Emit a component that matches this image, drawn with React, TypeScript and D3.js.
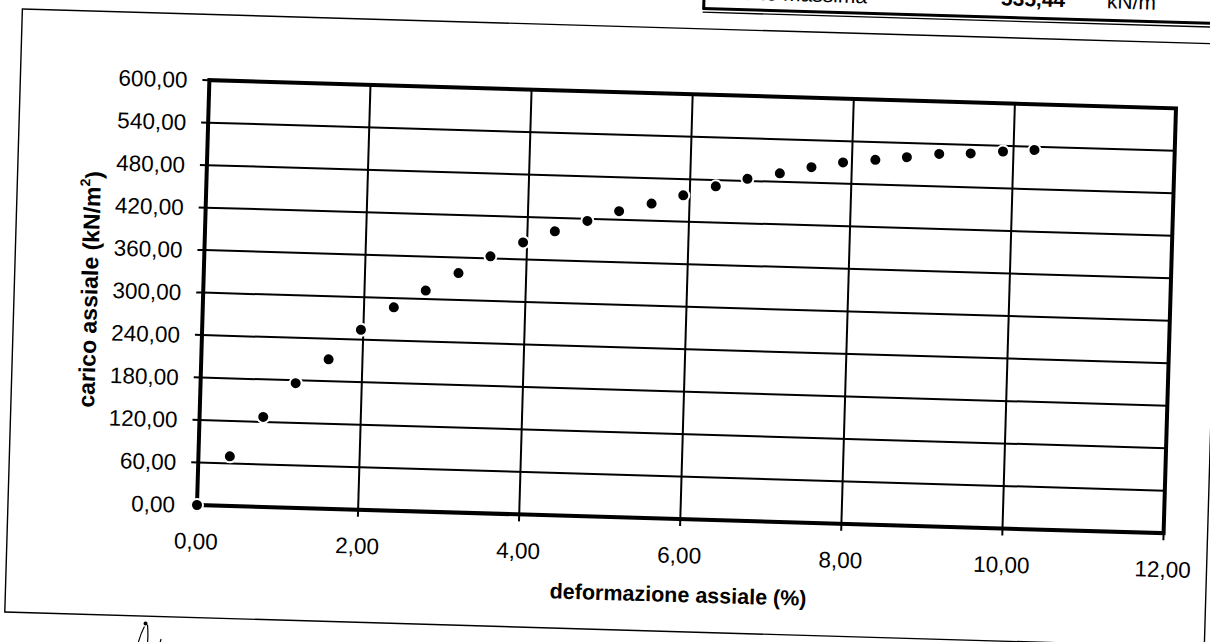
import React from "react";
import * as d3 from "d3";

// Data
const deformazione = [0.0, 0.39, 0.79, 1.18, 1.58, 1.97, 2.37, 2.76, 3.16, 3.55, 3.95, 4.34, 4.74, 5.13, 5.53, 5.92, 6.32, 6.71, 7.11, 7.5, 7.89, 8.29, 8.68, 9.08, 9.47, 9.87, 10.26];
const carico = [0, 70, 127, 176, 211, 254, 287, 312, 338, 363, 384, 401, 417, 432, 444, 457, 471, 483, 492, 502, 510, 515, 520, 526, 528, 532, 535.44];
const xTickValues = [0, 2, 4, 6, 8, 10, 12];
const yTickValues = [0, 60, 120, 180, 240, 300, 360, 420, 480, 540, 600];
const xTitle = "deformazione assiale (%)";
const yTitleMain = "carico assiale (kN/m";
const yTitleSup = "2";
const headerLabel = "Tensione massima";
const headerValue = "535,44";
const headerUnit = "kN/m";

const W = 1210;
const H = 642;
const plot = { left: 197, top: 80, right: 1164, bottom: 505 };
const ROT = 1.67;
const FONT = "'Liberation Sans', Arial, Helvetica, sans-serif";

export default function App() {
  const x = d3.scaleLinear().domain([0, 12]).range([plot.left, plot.right]);
  const y = d3.scaleLinear().domain([0, 600]).range([plot.bottom, plot.top]);
  const fmt = (v: number) => d3.format(".2f")(v).replace(".", ",");
  const pts = deformazione.map((d, i) => [d, carico[i]] as [number, number]);
  const cx = (plot.left + plot.right) / 2;
  const cy = (plot.top + plot.bottom) / 2;

  return (
    <svg
      width={W}
      height={H}
      viewBox={`0 0 ${W} ${H}`}
      style={{ position: "absolute", left: 0, top: 0, display: "block", background: "#fff" }}
      fontFamily={FONT}
    >
      <rect width={W} height={H} fill="#fff" />
      <g transform={`rotate(${ROT} ${plot.left} ${plot.bottom})`}>
        {/* header table fragment (cut at top, as in the scan) */}
        <text x={852} y={-16} fontSize={21} textAnchor="end" fill="#000">{headerLabel}</text>
        <text x={1018} y={-18} fontSize={21} fontWeight="bold" textAnchor="middle" fill="#000">{headerValue}</text>
        <text x={1092} y={-18} fontSize={21} fill="#000">{headerUnit}</text>
        <line x1={688} x2={1300} y1={-6} y2={-6} stroke="#000" strokeWidth={3} />
        <line x1={688} x2={1300} y1={-2.3} y2={-2.3} stroke="#000" strokeWidth={1.3} />
        <line x1={689} x2={689} y1={-60} y2={-5} stroke="#000" strokeWidth={3} />

        {/* outer chart frame */}
        <rect x={8} y={14.3} width={1200} height={603.3} fill="none" stroke="#000" strokeWidth={1.4} />

        {/* gridlines */}
        {yTickValues.filter((v) => v > 0 && v < 600).map((v) => (
          <line key={"gy" + v} x1={plot.left} x2={plot.right} y1={y(v)} y2={y(v)} stroke="#000" strokeWidth={2} />
        ))}
        {xTickValues.filter((v) => v > 0 && v < 12).map((v) => (
          <line key={"gx" + v} x1={x(v)} x2={x(v)} y1={plot.top} y2={plot.bottom} stroke="#000" strokeWidth={2} />
        ))}

        {/* ticks */}
        {yTickValues.map((v) => (
          <line key={"ty" + v} x1={plot.left - 7} x2={plot.left} y1={y(v)} y2={y(v)} stroke="#000" strokeWidth={2} />
        ))}
        {xTickValues.map((v) => (
          <line key={"tx" + v} x1={x(v)} x2={x(v)} y1={plot.bottom} y2={plot.bottom + 7} stroke="#000" strokeWidth={2} />
        ))}

        {/* plot border */}
        <rect
          x={plot.left}
          y={plot.top}
          width={plot.right - plot.left}
          height={plot.bottom - plot.top}
          fill="none"
          stroke="#000"
          strokeWidth={4}
        />

        {/* points */}
        {pts.map(([d, c], i) => (
          <circle key={"p" + i} cx={x(d)} cy={y(c)} r={6} fill="#000" stroke="#fff" strokeWidth={2} />
        ))}

        {/* tick labels */}
        {yTickValues.map((v) => (
          <text key={"ly" + v} x={plot.left - 22} y={y(v)} dy="0.36em" fontSize={22.5} textAnchor="end" fill="#000">
            {fmt(v)}
          </text>
        ))}
        {xTickValues.map((v) => (
          <text key={"lx" + v} x={x(v)} y={plot.bottom + 44} fontSize={22.5} textAnchor="middle" fill="#000">
            {fmt(v)}
          </text>
        ))}

        {/* axis titles */}
        <text x={cx} y={plot.bottom + 83} fontSize={21.5} fontWeight="bold" textAnchor="middle" fill="#000">
          {xTitle}
        </text>
        <text
          transform={`translate(83 ${cy}) rotate(-90)`}
          dy="0.36em"
          fontSize={23}
          fontWeight="bold"
          textAnchor="middle"
          fill="#000"
        >
          {yTitleMain}
          <tspan fontSize={14} dy="-0.75em">{yTitleSup}</tspan>
          <tspan dy="0.5em">)</tspan>
        </text>

        {/* handwritten mark below the frame */}
        <path d="M148,628 C146,632 143,640 141,650 M151,626 C152,634 152,642 151,652 M165,640 C164,644 163,648 162,652"
          fill="none" stroke="#000" strokeWidth={1.2} />
        <circle cx={149} cy={625} r={2} fill="#000" />
      </g>
    </svg>
  );
}
